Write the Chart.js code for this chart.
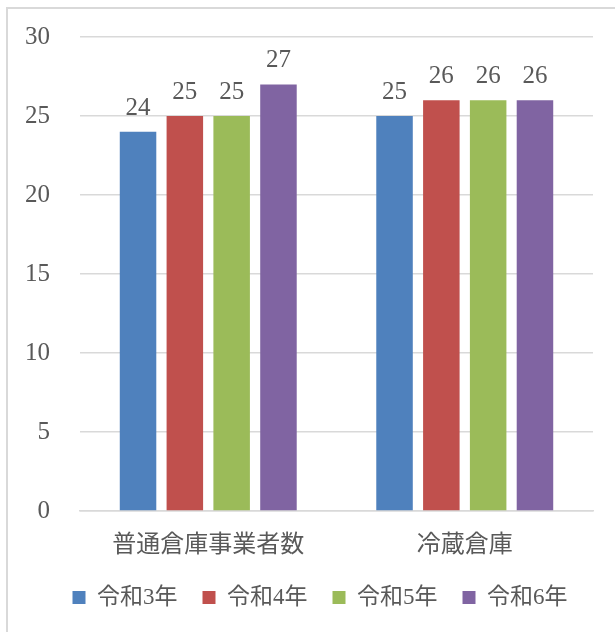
<!DOCTYPE html>
<html>
<head>
<meta charset="utf-8">
<script src="https://cdn.jsdelivr.net/npm/chart.js@4"></script>
<style>
  body { margin: 0; background: #fff; overflow: hidden; }
  #wrap { position: relative; width: 615px; height: 632px; overflow: hidden; }
  #frame { position: absolute; left: 6px; top: 7px; width: 700px; height: 700px; border: 2px solid #d9d9d9; box-sizing: border-box; }
</style>
</head>
<body>
<div id="wrap">
  <div id="frame"></div>
  <canvas id="myChart" width="615" height="632" style="position:absolute;left:0;top:0"></canvas>
</div>
<script>
// Chart data
let categories = ['普通倉庫事業者数', '冷蔵倉庫']
let seriesNames = ['令和3年', '令和4年', '令和5年', '令和6年']
let r3 = [24, 25]
let r4 = [25, 26]
let r5 = [25, 26]
let r6 = [27, 26]
let yTicks = [0, 5, 10, 15, 20, 25, 30]

let colors = {
  blue: '#4F81BD',
  red: '#C0504D',
  green: '#9BBB59',
  purple: '#8064A2'
}
let fontFamily = '"Liberation Serif", "Noto Sans CJK JP", serif'
let textColor = '#595959'

// value labels above bars
let valueLabels = {
  id: 'valueLabels',
  afterDatasetsDraw(chart) {
    let ctx = chart.ctx
    ctx.save()
    ctx.font = '25px ' + fontFamily
    ctx.fillStyle = textColor
    ctx.textAlign = 'center'
    ctx.textBaseline = 'alphabetic'
    chart.data.datasets.forEach((ds, i) => {
      chart.getDatasetMeta(i).data.forEach((bar, j) => {
        ctx.fillText(ds.data[j], bar.x, bar.y - 17)
      })
    })
    ctx.restore()
  }
}

let makeSet = (label, data, color) => ({
  label: label,
  data: data,
  backgroundColor: color,
  borderWidth: 0,
  barPercentage: 0.78,
  categoryPercentage: 0.73
})

let noPad = (scale) => {
  scale.paddingTop = 0
  scale.paddingBottom = 0
  scale.paddingLeft = 0
  scale.paddingRight = 0
}

var ctx = document.getElementById('myChart').getContext('2d')
var myChart = new Chart(ctx, {
  type: 'bar',
  data: {
    labels: categories,
    datasets: [
      makeSet(seriesNames[0], r3, colors.blue),
      makeSet(seriesNames[1], r4, colors.red),
      makeSet(seriesNames[2], r5, colors.green),
      makeSet(seriesNames[3], r6, colors.purple)
    ]
  },
  options: {
    responsive: false,
    animation: false,
    layout: { padding: { left: 25, right: 0, top: 37, bottom: 13 } },
    plugins: {
      tooltip: { enabled: false },
      legend: {
        position: 'bottom',
        labels: {
          boxWidth: 13,
          boxHeight: 13,
          padding: 25,
          color: textColor,
          font: { family: fontFamily, size: 23 }
        }
      }
    },
    scales: {
      x: {
        grid: { display: false },
        border: { color: '#d9d9d9', width: 1.5 },
        ticks: { color: textColor, padding: 12, font: { family: fontFamily, size: 24 } },
        afterFit(scale) { scale.height = 50; noPad(scale) }
      },
      y: {
        min: 0,
        max: 30,
        afterBuildTicks(scale) { scale.ticks = yTicks.map(v => ({ value: v })) },
        grid: { color: '#d9d9d9', lineWidth: 1.5, drawTicks: false },
        border: { display: false },
        ticks: { color: textColor, padding: 30, font: { family: fontFamily, size: 25 } },
        afterFit(scale) { scale.width = 55; noPad(scale) }
      },
      // empty right-hand axis, only keeps space on the right of the plot
      yRight: {
        position: 'right',
        grid: { display: false, drawTicks: false },
        border: { display: false },
        ticks: { display: false },
        afterFit(scale) { scale.width = 22; noPad(scale) }
      }
    }
  },
  plugins: [valueLabels]
})
</script>
</body>
</html>
